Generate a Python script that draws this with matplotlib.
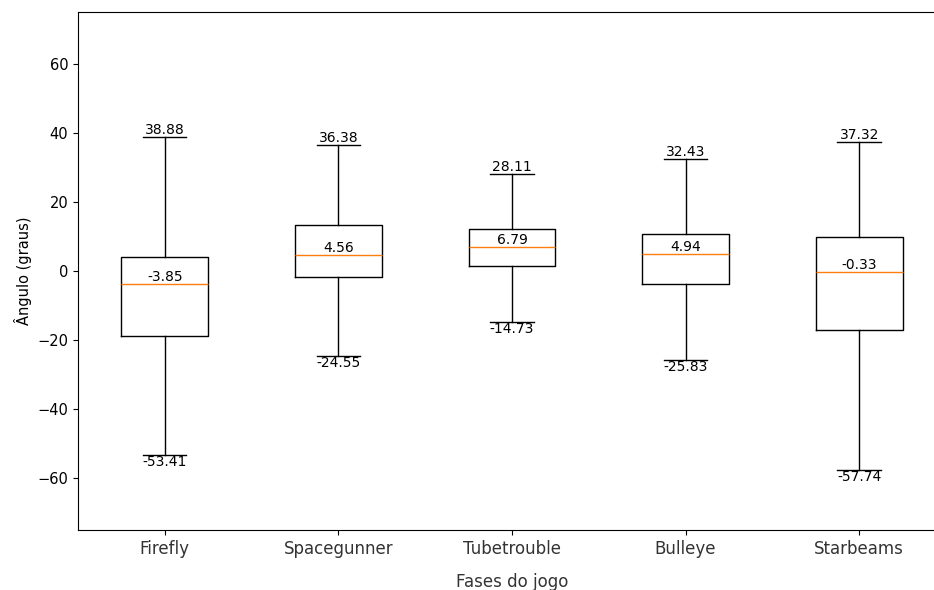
import matplotlib
matplotlib.use("Agg")
import matplotlib.pyplot as plt

categories = ["Firefly", "Spacegunner", "Tubetrouble", "Bulleye", "Starbeams"]
whis_high = [38.88, 36.38, 28.11, 32.43, 37.32]
whis_low = [-53.41, -24.55, -14.73, -25.83, -57.74]
medians = [-3.85, 4.56, 6.79, 4.94, -0.33]
q3 = [4.1, 13.4, 12.0, 10.7, 9.9]
q1 = [-18.9, -1.7, 1.3, -3.9, -17.2]

stats = []
for i, c in enumerate(categories):
    stats.append(dict(label=c, med=medians[i], q1=q1[i], q3=q3[i],
                      whislo=whis_low[i], whishi=whis_high[i], fliers=[]))

fig, ax = plt.subplots(figsize=(9.34, 5.9), dpi=100)
fig.subplots_adjust(left=0.0835, right=1.0128, top=0.98, bottom=0.102)
ax.bxp(stats, showfliers=False)

for i in range(len(categories)):
    x = i + 1
    ax.text(x, whis_high[i], f"{whis_high[i]:.2f}", ha="center", va="bottom", fontsize=10)
    ax.text(x, whis_low[i], f"{whis_low[i]:.2f}", ha="center", va="top", fontsize=10)
    ax.text(x, medians[i], f"{medians[i]:.2f}", ha="center", va="bottom", fontsize=10)

ax.set_ylim(-75, 75)
ax.tick_params(axis="x", labelsize=12, labelcolor="#333333")
ax.tick_params(axis="y", labelsize=10.5)
ax.set_xlabel("Fases do jogo", fontsize=12, color="#333333", labelpad=11)
ax.set_ylabel("Ângulo (graus)", fontsize=10.5)
fig.savefig("out.png", dpi=100)
